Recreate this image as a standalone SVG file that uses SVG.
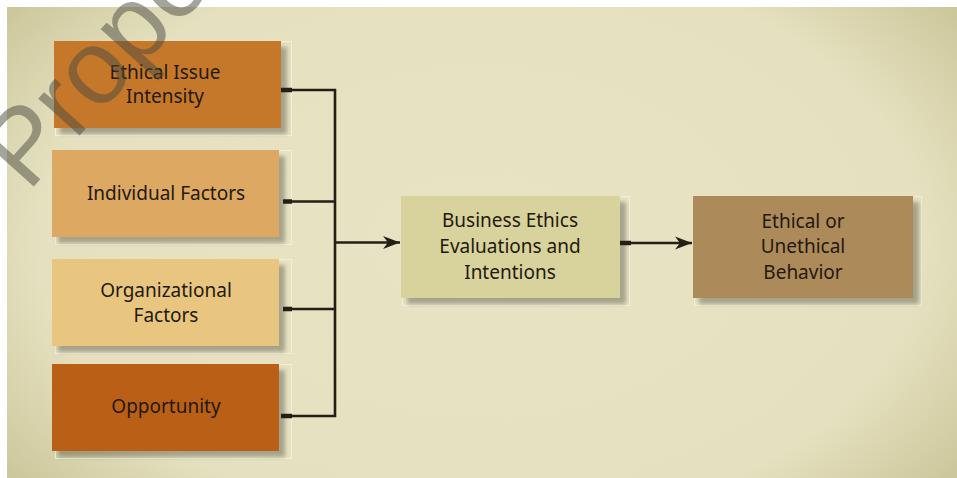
<svg xmlns="http://www.w3.org/2000/svg" width="957" height="478" viewBox="0 0 957 478">
  <defs>
    <radialGradient id="bg" cx="0.5" cy="0.5" r="0.62" gradientTransform="translate(0.5,0.5) scale(1,1.3) translate(-0.5,-0.5)">
      <stop offset="0" stop-color="#e7e3c4"/>
      <stop offset="0.75" stop-color="#e5e1c0"/>
      <stop offset="1" stop-color="#cdc89c"/>
    </radialGradient>
    <filter id="sh" x="-10%" y="-10%" width="130%" height="130%">
      <feGaussianBlur in="SourceAlpha" stdDeviation="2"/>
      <feOffset dx="6" dy="6"/>
      <feComponentTransfer><feFuncA type="linear" slope="0.28"/></feComponentTransfer>
      <feMerge><feMergeNode/><feMergeNode in="SourceGraphic"/></feMerge>
    </filter>
    <marker id="arr" markerWidth="20" markerHeight="16" refX="18" refY="8" orient="auto" markerUnits="userSpaceOnUse">
      <path d="M18,8 L1,1.5 L6,8 L1,14.5 Z" fill="#231f14"/>
    </marker>
    <style>
      .frame { fill: none; stroke: #f2efd9; stroke-width: 1; }
      .lbl { font-family: "Noto Sans", "Open Sans", "Liberation Sans", sans-serif; font-size: 19px; fill: #24190d; text-anchor: middle; }
      .ln { fill: none; stroke: #231f14; stroke-width: 2.6; stroke-linejoin: miter; }
      .stub { stroke: #231f14; stroke-width: 4.5; }
      .wm { font-family: "Liberation Sans", "DejaVu Sans", sans-serif; font-size: 105px; fill: #4a4a40; fill-opacity: 0.5; }
    </style>
  </defs>

  <rect x="0" y="0" width="957" height="478" fill="#ffffff"/>
  <rect x="7" y="7" width="950" height="471" fill="url(#bg)"/>

  <g id="node-ethical-issue-intensity">
    <rect class="frame" x="55.5" y="41.5" width="236" height="94"/>
    <rect x="54" y="41" width="227" height="87" fill="#c5782b" filter="url(#sh)"/>
    <text class="lbl" x="165" y="79">Ethical Issue</text>
    <text class="lbl" x="165" y="103">Intensity</text>
  </g>

  <g id="node-individual-factors">
    <rect class="frame" x="55.5" y="150.5" width="236" height="94"/>
    <rect x="52" y="150" width="227" height="87" fill="#dca862" filter="url(#sh)"/>
    <text class="lbl" x="166" y="200">Individual Factors</text>
  </g>

  <g id="node-organizational-factors">
    <rect class="frame" x="55.5" y="259.5" width="236" height="94"/>
    <rect x="52" y="259" width="227" height="87" fill="#e8c680" filter="url(#sh)"/>
    <text class="lbl" x="166" y="297">Organizational</text>
    <text class="lbl" x="166" y="322">Factors</text>
  </g>

  <g id="node-opportunity">
    <rect class="frame" x="55.5" y="364.5" width="236" height="94"/>
    <rect x="52" y="364" width="227" height="87" fill="#b96114" filter="url(#sh)"/>
    <text class="lbl" x="166" y="413">Opportunity</text>
  </g>

  <g id="node-evaluations">
    <rect class="frame" x="402.5" y="196.5" width="227" height="109"/>
    <rect x="401" y="196" width="219" height="102" fill="#d8d29c" filter="url(#sh)"/>
    <text class="lbl" x="510" y="227">Business Ethics</text>
    <text class="lbl" x="510" y="253">Evaluations and</text>
    <text class="lbl" x="510" y="279">Intentions</text>
  </g>

  <g id="node-behavior">
    <rect class="frame" x="694.5" y="196.5" width="227" height="109"/>
    <rect x="693" y="196" width="220" height="102" fill="#ad8a5a" filter="url(#sh)"/>
    <text class="lbl" x="803" y="228">Ethical or</text>
    <text class="lbl" x="803" y="253">Unethical</text>
    <text class="lbl" x="803" y="279">Behavior</text>
  </g>

  <g id="connectors">
    <line class="stub" x1="281" y1="90" x2="292" y2="90"/>
    <line class="stub" x1="283" y1="201.5" x2="292" y2="201.5"/>
    <line class="stub" x1="283" y1="309" x2="292" y2="309"/>
    <line class="stub" x1="281" y1="416" x2="292" y2="416"/>
    <polyline class="ln" points="290,90 335,90 335,416 290,416"/>
    <line class="ln" x1="290" y1="201.5" x2="335" y2="201.5"/>
    <line class="ln" x1="290" y1="309" x2="335" y2="309"/>
    <line class="ln" x1="335" y1="242.5" x2="400" y2="242.5" marker-end="url(#arr)"/>
    <line class="stub" x1="620" y1="243" x2="631" y2="243"/>
    <line class="ln" x1="629" y1="243" x2="692" y2="243" marker-end="url(#arr)"/>
  </g>

  <text class="wm" transform="translate(28,193) rotate(-48)">Prope</text>
</svg>
